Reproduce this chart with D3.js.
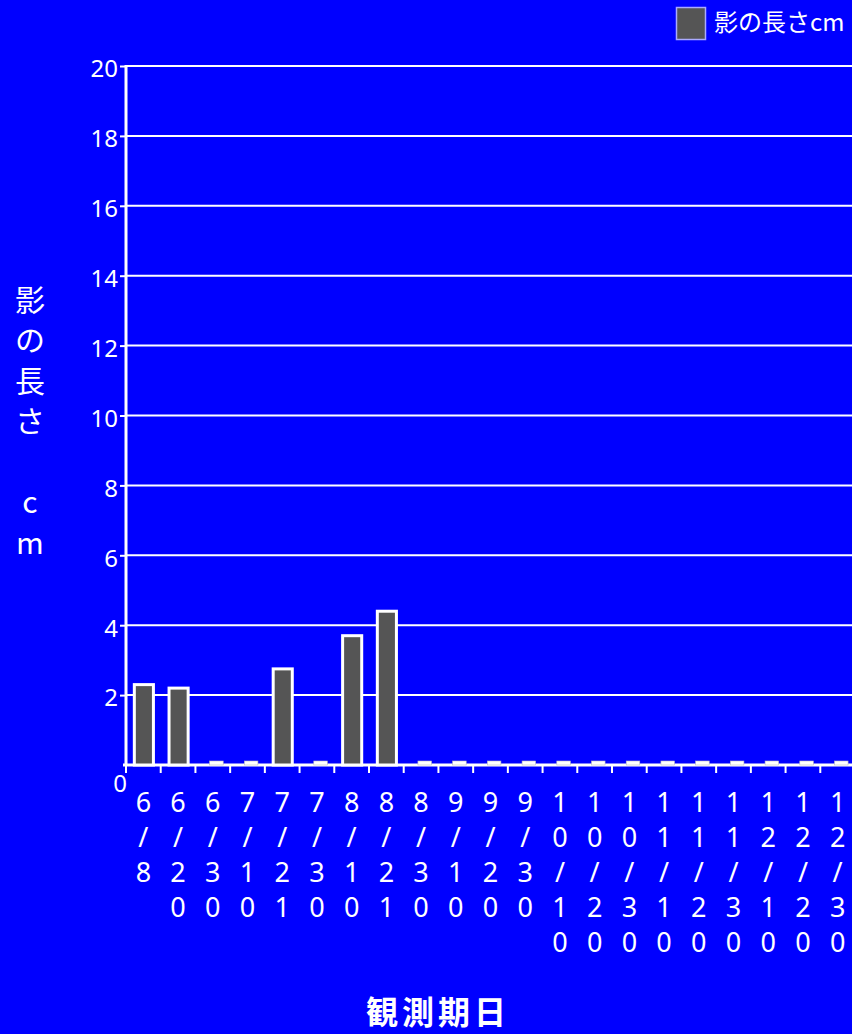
<!DOCTYPE html>
<html>
<head>
<meta charset="utf-8">
<script src="https://cdn.jsdelivr.net/npm/d3@7"></script>
<style>
  body { margin: 0; background: #0000ff; }
  svg { display: block; font-family: "Noto Sans CJK JP", "Noto Sans", sans-serif; }
</style>
</head>
<body>
<div id="chart"></div>
<script>
// data
let dates = ["6/8", "6/20", "6/30", "7/10", "7/21", "7/30", "8/10", "8/21", "8/30", "9/10", "9/20", "9/30",
    "10/10", "10/20", "10/30", "11/10", "11/20", "11/30", "12/10", "12/20", "12/30"];
let shadowLen = [2.3, 2.2, 0, 0, 2.75, 0, 3.7, 4.4, 0, 0, 0, 0, 0, 0, 0, 0, 0, 0, 0, 0, 0];
let yTicks = [2, 4, 6, 8, 10, 12, 14, 16, 18, 20];
let yTitle = ["影", "の", "長", "さ", "", "c", "m"];
let legendLabel = "影の長さcm";
let xTitle = "観測期日";

let width = 852, height = 1034;
let plotLeft = 126, plotRight = 855, plotTop = 66, plotBottom = 765;

let svg = d3.select("#chart").append("svg")
    .attr("width", width)
    .attr("height", height);

svg.append("rect")
    .attr("width", width)
    .attr("height", height)
    .style("fill", "#0000ff");

let x = d3.scaleBand().domain(dates).range([plotLeft, plotRight]).padding(0);
let y = d3.scaleLinear().domain([0, 20]).range([plotBottom, plotTop]);
let bw = x.bandwidth();

//gridlines
svg.append("g").selectAll("line")
    .data(yTicks)
    .join("line")
    .attr("x1", plotLeft).attr("x2", width)
    .attr("y1", d => y(d)).attr("y2", d => y(d))
    .style("stroke", "white")
    .style("stroke-width", 2);

//y axis
let yAxis = svg.append("g")
    .attr("transform", "translate(" + plotLeft + ",0)")
    .call(d3.axisLeft(y).tickValues(yTicks).tickSize(6).tickPadding(2));
yAxis.select(".domain").remove();
yAxis.selectAll("line").style("stroke", "white").style("stroke-width", 2);
yAxis.selectAll("text")
    .attr("dy", "0.45em")
    .style("fill", "white")
    .style("font-size", "24px")
    .style("font-family", "'Noto Sans', sans-serif");
svg.append("line")
    .attr("x1", plotLeft).attr("x2", plotLeft)
    .attr("y1", plotTop - 1).attr("y2", plotBottom)
    .style("stroke", "white")
    .style("stroke-width", 3);
svg.append("text")
    .attr("x", plotLeft - 6).attr("y", plotBottom + 19)
    .attr("text-anchor", "middle")
    .attr("dy", "0.35em")
    .style("fill", "white")
    .style("font-size", "24px")
    .style("font-family", "'Noto Sans', sans-serif")
    .text("0");

//x axis
svg.append("line")
    .attr("x1", plotLeft - 3).attr("x2", width)
    .attr("y1", plotBottom).attr("y2", plotBottom)
    .style("stroke", "white")
    .style("stroke-width", 3);
svg.append("g").selectAll("line")
    .data(dates)
    .join("line")
    .attr("x1", d => x(d)).attr("x2", d => x(d))
    .attr("y1", plotBottom).attr("y2", plotBottom + 8)
    .style("stroke", "white")
    .style("stroke-width", 2);

//x labels, one character per line
let lab = svg.append("g").selectAll("text")
    .data(dates)
    .join("text")
    .attr("text-anchor", "middle")
    .style("fill", "white")
    .style("font-size", "27px")
    .style("font-family", "'Noto Sans', sans-serif");
lab.each(function (d) {
    let t = d3.select(this);
    d.split("").forEach((c, i) => {
        t.append("tspan")
            .attr("x", x(d) + bw / 2)
            .attr("y", 802 + 35 * i)
            .attr("dy", "0.36em")
            .text(c);
    });
});

//bars
svg.append("g").selectAll("rect")
    .data(dates.map((d, i) => ({ d: d, v: shadowLen[i] })).filter(o => o.v > 0))
    .join("rect")
    .attr("x", o => x(o.d) + bw * 0.24)
    .attr("width", bw * 0.55)
    .attr("y", o => y(o.v))
    .attr("height", o => y(0) - y(o.v))
    .style("fill", "#555555")
    .style("stroke", "white")
    .style("stroke-width", 3);

//zero values
svg.append("g").selectAll("rect")
    .data(dates.filter((d, i) => shadowLen[i] === 0))
    .join("rect")
    .attr("x", d => x(d) + bw * 0.41)
    .attr("width", bw * 0.39)
    .attr("y", y(0) - 4)
    .attr("height", 4)
    .style("fill", "white")
    .style("stroke", "#bbbbbb")
    .style("stroke-width", 0.6);

//y title
svg.append("g").selectAll("text")
    .data(yTitle)
    .join("text")
    .attr("x", 30)
    .attr("y", (d, i) => 300 + 40.5 * i)
    .attr("dy", "0.36em")
    .attr("text-anchor", "middle")
    .style("fill", "white")
    .style("font-size", "30px")
    .text(d => d);

//x title
svg.append("text")
    .attr("x", 438)
    .attr("y", 1012)
    .attr("dy", "0.36em")
    .attr("text-anchor", "middle")
    .style("fill", "white")
    .style("font-size", "32px")
    .style("font-weight", "bold")
    .style("letter-spacing", "4px")
    .text(xTitle);

//legend
svg.append("rect")
    .attr("x", 676.5).attr("y", 7.5)
    .attr("width", 29).attr("height", 32)
    .style("fill", "#555555")
    .style("stroke", "#aaaaff")
    .style("stroke-width", 1.5);
svg.append("text")
    .attr("x", 714)
    .attr("y", 22)
    .attr("dy", "0.36em")
    .style("fill", "white")
    .style("font-size", "24px")
    .text(legendLabel);
</script>
</body>
</html>
